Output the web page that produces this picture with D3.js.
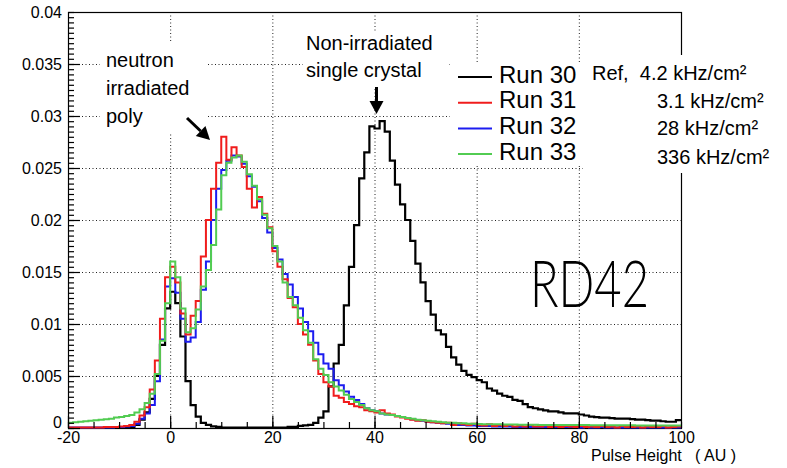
<!DOCTYPE html>
<html><head><meta charset="utf-8">
<script src="https://cdn.jsdelivr.net/npm/d3@7"></script>
<style>
body{margin:0;background:#fff}
svg{display:block}
text{font-family:"Liberation Sans",Arial,Helvetica,sans-serif;fill:#000}
</style>
</head><body>
<svg id="c" width="787" height="468"></svg>
<script>
// ---- data (bin contents in units of 1e-3, bins of width 1 starting at -20) ----
const binStart = -20, binWidth = 1;
const run30 = [
 0,0,0,0,0,0,0,0,0,0,
 0,0.05,0.1,0.3,0.8,1.5,2.8,5.0,8.0,11.5,
 13.1,12.0,8.8,4.5,2.2,1.1,0.5,0.3,0.15,0.1,
 0.05,0.05,0.05,0.05,0.05,0.05,0.05,0.05,0.05,0.05,
 0.05,0.05,0.05,0.1,0.1,0.2,0.25,0.3,0.5,1.0,
 1.6,4.0,6.2,8.0,11.8,15.5,19.5,24.0,26.5,29.0,
 28.8,29.5,28.5,25.7,23.4,21.5,20.0,18.0,15.8,14.0,
 12.2,10.9,9.4,9.0,7.8,6.8,6.1,5.5,5.1,4.9,
 4.6,4.4,3.8,3.6,3.3,3.1,3.0,2.7,2.6,2.3,
 2.0,1.9,1.8,1.7,1.6,1.6,1.5,1.4,1.4,1.4,
 1.3,1.2,1.1,1.05,1.0,1.0,0.95,0.9,0.9,0.9,
 0.85,0.8,0.8,0.75,0.7,0.7,0.65,0.6,0.6,0.75
];
const run31 = [
 0.05,0.05,0.05,0.05,0.05,0.05,0.05,0.1,0.1,0.1,
 0.15,0.2,0.3,0.6,1.2,2.0,3.7,6.5,10.5,14.5,
 15.5,14.0,11.0,9.0,10.8,12.2,16.5,20.0,23.0,25.5,
 28.0,25.8,27.0,26.2,25.1,23.0,21.2,22.2,20.6,19.3,
 17.0,15.5,14.3,12.5,11.6,10.0,9.0,8.0,6.5,5.2,
 4.4,4.0,3.1,2.9,2.5,2.3,2.1,2.0,1.7,1.6,
 1.5,1.7,1.4,1.3,1.1,1.0,0.9,0.8,0.7,0.75,
 0.6,0.55,0.5,0.45,0.5,0.3,0.45,0.35,0.3,0.4,
 0.3,0.25,0.35,0.2,0.3,0.2,0.3,0.15,0.25,0.15,
 0.3,0.15,0.15,0.25,0.1,0.2,0.1,0.2,0.15,0.1,
 0.2,0.1,0.15,0.1,0.2,0.1,0.15,0.05,0.2,0.1,
 0.1,0.15,0.05,0.15,0.1,0.1,0.2,0.05,0.1,0.15
];
const run32 = [
 0.05,0.05,0.05,0.05,0.05,0.05,0.05,0.05,0.05,0.1,
 0.1,0.15,0.2,0.4,0.9,1.4,2.2,4.5,8.5,13.6,
 14.4,13.0,10.5,8.3,8.7,10.2,13.3,16.0,20.0,23.0,
 24.8,25.7,26.2,26.1,25.4,24.2,23.2,21.8,20.2,18.8,
 17.3,16.2,14.8,13.8,12.6,11.5,10.2,9.3,8.2,7.1,
 6.2,5.7,4.6,4.1,3.5,3.0,2.7,2.3,1.9,1.7,
 1.6,1.4,1.3,1.25,1.15,1.05,0.95,0.85,0.75,0.7,
 0.6,0.55,0.5,0.45,0.4,0.35,0.3,0.3,0.25,0.25,
 0.2,0.2,0.2,0.15,0.15,0.15,0.15,0.1,0.1,0.1,
 0.1,0.1,0.1,0.1,0.1,0.1,0.1,0.1,0.1,0.1,
 0.05,0.1,0.05,0.05,0.1,0.05,0.05,0.05,0.05,0.05,
 0.05,0.05,0.05,0.05,0.05,0.05,0.05,0.05,0.05,0.05
];
const run33 = [
 0.5,0.55,0.6,0.65,0.7,0.75,0.8,0.85,0.9,1.0,
 1.05,1.15,1.25,1.5,1.8,2.4,3.3,5.2,8.4,12.0,
 16.0,14.5,11.5,9.2,9.6,11.4,13.6,15.2,17.6,21.0,
 24.3,25.5,26.0,26.2,25.6,24.4,23.3,22.0,20.5,19.2,
 17.5,16.0,14.0,12.6,11.8,10.6,9.4,8.2,6.6,5.7,
 5.1,4.4,4.0,3.6,3.2,2.8,2.5,2.2,1.9,1.7,
 1.6,1.4,1.3,1.25,1.15,1.05,0.95,0.9,0.8,0.75,
 0.7,0.65,0.6,0.55,0.5,0.5,0.45,0.45,0.4,0.4,
 0.38,0.37,0.36,0.35,0.35,0.34,0.33,0.33,0.32,0.32,
 0.31,0.31,0.3,0.3,0.3,0.3,0.29,0.29,0.28,0.28,
 0.28,0.28,0.27,0.27,0.27,0.27,0.26,0.26,0.26,0.26,
 0.26,0.25,0.25,0.25,0.25,0.25,0.25,0.25,0.25,0.25
];
const xTickValues = [-20, 0, 20, 40, 60, 80, 100];
const xTickLabels = ["-20", "0", "20", "40", "60", "80", "100"];
const yTickValues = [0, 5, 10, 15, 20, 25, 30, 35, 40]; // x1e-3
const yTickLabels = ["0", "0.005", "0.01", "0.015", "0.02", "0.025", "0.03", "0.035", "0.04"];
const seriesNames = ["Run 30", "Run 31", "Run 32", "Run 33"];
const seriesColors = ["#000000", "#f01c1c", "#1c1cf0", "#52cc52"];
const rateLabels = ["Ref,  4.2 kHz/cm²", "3.1 kHz/cm²", "28 kHz/cm²", "336 kHz/cm²"];
const xTitle = "Pulse Height   ( AU )";
const annPoly = ["neutron", "irradiated", "poly"];
const annSingle = ["Non-irradiated", "single crystal"];
const brand = "RD42";

// ---- drawing ----
const svg = d3.select("#c");
const x = d3.scaleLinear().domain([-20, 100]).range([68, 681]);
const y = d3.scaleLinear().domain([0, 40]).range([428, 12]);
const X0 = x.range()[0], X1 = x.range()[1], Y0 = y.range()[0], Y1 = y.range()[1];

// grid (dotted)
const grid = svg.append("g").attr("stroke", "#222").attr("stroke-width", 1).attr("stroke-dasharray", "1,2.5");
grid.selectAll(".gx").data(xTickValues.slice(1, -1)).join("line")
  .attr("x1", d => x(d) + 0.5).attr("x2", d => x(d) + 0.5).attr("y1", Y1).attr("y2", Y0);
grid.selectAll(".gy").data(yTickValues.slice(1, -1)).join("line")
  .attr("x1", X0).attr("x2", X1).attr("y1", d => y(d) + 0.5).attr("y2", d => y(d) + 0.5);

// frame
svg.append("rect").attr("x", X0 + 0.5).attr("y", Y1 + 0.5).attr("width", X1 - X0).attr("height", Y0 - Y1)
  .attr("fill", "none").attr("stroke", "#000").attr("stroke-width", 1.2);

// white boxes behind the annotations (as in the original ROOT canvas)
const boxes = [[100, 43, 108, 89], [303, 33, 145, 55], [450, 62, 133, 103], [583, 55, 107, 118]];
svg.append("g").selectAll("rect").data(boxes).join("rect")
  .attr("x", d => d[0]).attr("y", d => d[1]).attr("width", d => d[2]).attr("height", d => d[3])
  .attr("fill", "#fff");

// histograms
const line = d3.line().x(d => x(d[0])).y(d => y(d[1])).curve(d3.curveStepAfter);
function pts(arr) {
  const p = arr.map((v, i) => [binStart + i * binWidth, v]);
  p.push([binStart + arr.length * binWidth, arr[arr.length - 1]]);
  return p;
}
const series = [run30, run31, run32, run33];
const drawOrder = [0, 2, 1, 3];
svg.append("g").selectAll("path").data(drawOrder).join("path")
  .attr("d", i => line(pts(series[i])))
  .attr("fill", "none").attr("stroke", i => seriesColors[i])
  .attr("stroke-width", i => i === 0 ? 2.2 : 2).attr("stroke-linejoin", "miter");

// axes with inward ticks
const fmtX = d => xTickLabels[xTickValues.indexOf(d)];
const fmtY = d => yTickLabels[yTickValues.indexOf(d)];
const gxMinor = svg.append("g").attr("transform", `translate(0,${Y0})`)
  .call(d3.axisBottom(x).tickValues(d3.range(-20, 101, 5)).tickSize(-6).tickSizeOuter(0).tickFormat(""));
const gxMajor = svg.append("g").attr("transform", `translate(0,${Y0})`)
  .call(d3.axisBottom(x).tickValues(xTickValues).tickSize(-12).tickSizeOuter(0).tickPadding(4).tickFormat(fmtX));
const gyMinor = svg.append("g").attr("transform", `translate(${X0},0)`)
  .call(d3.axisLeft(y).tickValues(d3.range(0, 40.01, 0.5)).tickSize(-6).tickSizeOuter(0).tickFormat(""));
const gyMajor = svg.append("g").attr("transform", `translate(${X0},0)`)
  .call(d3.axisLeft(y).tickValues(yTickValues).tickSize(-12).tickSizeOuter(0).tickPadding(6).tickFormat(fmtY));
[gxMinor, gxMajor, gyMinor, gyMajor].forEach(g => {
  g.select(".domain").remove();
  g.selectAll(".tick line").attr("stroke", "#000").attr("stroke-width", 1.2);
});
[gxMajor, gyMajor].forEach(g => g.selectAll("text")
  .style("font-family", '"Liberation Sans",Arial,sans-serif').style("font-size", "16px").attr("fill", "#000"));
gyMajor.selectAll(".tick").filter(d => d === 0).select("text").attr("dy", "-0.05em");
gxMajor.selectAll(".tick").filter(d => d === 100).select("line").remove();
gyMajor.selectAll(".tick").filter(d => d === 40).select("line").remove();

// x axis title
svg.append("text").attr("x", 736).attr("y", 461).attr("text-anchor", "end")
  .style("font-size", "16px").style("white-space", "pre").text(xTitle);

// annotations
svg.append("g").selectAll("text").data(annPoly).join("text")
  .attr("x", 106).attr("y", (d, i) => 67 + i * 28).style("font-size", "20px").text(d => d);
svg.append("g").selectAll("text").data(annSingle).join("text")
  .attr("x", 306).attr("y", (d, i) => 50 + i * 27).style("font-size", "20px").text(d => d);

// arrows
function arrow(x1, y1, x2, y2) {
  const a = Math.atan2(y2 - y1, x2 - x1), L = 13, w = 7;
  const bx = x2 - L * Math.cos(a), by = y2 - L * Math.sin(a);
  svg.append("line").attr("x1", x1).attr("y1", y1).attr("x2", bx).attr("y2", by)
    .attr("stroke", "#000").attr("stroke-width", 3);
  svg.append("path").attr("d", d3.line()([[x2, y2],
    [bx + w * Math.sin(a), by - w * Math.cos(a)], [bx - w * Math.sin(a), by + w * Math.cos(a)]]) + "Z")
    .attr("fill", "#000");
}
arrow(187, 118, 210, 140);
arrow(376.5, 87, 376.5, 114);

// legend
const leg = svg.append("g").selectAll("g").data(seriesNames).join("g")
  .attr("transform", (d, i) => `translate(0,${77 + i * 25.7})`);
leg.append("line").attr("x1", 458).attr("x2", 492).attr("y1", 0).attr("y2", 0)
  .attr("stroke", (d, i) => seriesColors[i]).attr("stroke-width", 2);
leg.append("text").attr("x", 499).attr("y", 5.5).style("font-size", "24px").text(d => d);

// rate labels
const rateX = [592, 657, 657, 657], rateY = [80, 108, 135, 164];
svg.append("g").selectAll("text").data(rateLabels).join("text")
  .attr("x", (d, i) => rateX[i]).attr("y", (d, i) => rateY[i])
  .style("font-size", "20px").style("white-space", "pre").text(d => d);

// brand text
svg.append("text").attr("x", 530).attr("y", 307)
  .attr("textLength", 119).attr("lengthAdjust", "spacingAndGlyphs")
  .style("font-family", '"Lato","Noto Sans",sans-serif').style("font-weight", 300)
  .style("font-size", "66px").text(brand);
</script>
</body></html>
